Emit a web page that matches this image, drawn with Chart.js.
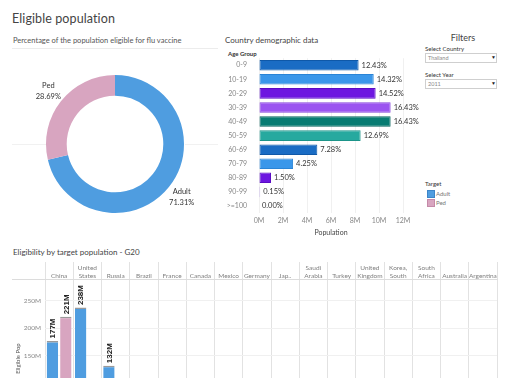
<!DOCTYPE html>
<html><head><meta charset="utf-8">
<script src="https://cdn.jsdelivr.net/npm/chart.js@4"></script>
<style>
html,body{margin:0;padding:0;width:512px;height:378px;overflow:hidden;background:#fff;font-family:Lato,"Open Sans",sans-serif;}
.a{position:absolute;white-space:nowrap;line-height:1;}
canvas{position:absolute;}
.box{position:absolute;border:1px solid #cfcfcf;background:#fff;box-sizing:border-box;}
</style></head><body>
<div class="a" style="left:12px;top:13px;font-size:12.5px;color:#444;letter-spacing:0.1px;">Eligible population</div>
<div class="a" style="left:13px;top:37px;font-size:7.5px;color:#555;">Percentage of the population eligible for flu vaccine</div>
<div class="a" style="left:12px;top:48px;width:206px;height:1px;background:#ececec;"></div>
<div class="a" style="left:12px;top:144px;width:34px;height:1px;background:#f1f1f1;"></div>
<div class="a" style="left:185px;top:144px;width:33px;height:1px;background:#f1f1f1;"></div>
<div class="a" style="left:225px;top:36px;font-size:8px;color:#444;">Country demographic data</div>
<div class="a" style="left:228px;top:51px;font-size:6px;color:#333;font-weight:bold;">Age Group</div>

<div class="a" style="left:440px;top:33px;width:46px;text-align:center;font-size:9px;color:#444;">Filters</div>
<div class="a" style="left:425px;top:46px;font-size:6px;color:#333;">Select Country</div>
<div class="box" style="left:425px;top:53px;width:72px;height:10px;"></div>
<div class="a" style="left:428px;top:55.5px;font-size:5.5px;color:#888;">Thailand</div>
<div class="a" style="left:491px;top:55px;font-size:5px;color:#222;">&#9660;</div>
<div class="a" style="left:425px;top:72px;font-size:6px;color:#333;">Select Year</div>
<div class="box" style="left:425px;top:79px;width:72px;height:10px;"></div>
<div class="a" style="left:428px;top:81.5px;font-size:5.5px;color:#888;">2011</div>
<div class="a" style="left:491px;top:81px;font-size:5px;color:#222;">&#9660;</div>

<div class="a" style="left:425px;top:181px;font-size:6px;color:#333;">Target</div>
<div class="a" style="left:427px;top:190px;width:6px;height:6px;background:#4f9de0;border:0.5px solid #3d85c8;"></div>
<div class="a" style="left:436px;top:190.5px;font-size:6px;color:#777;">Adult</div>
<div class="a" style="left:427px;top:199px;width:6px;height:6px;background:#d8a5c0;border:0.5px solid #c48aa8;"></div>
<div class="a" style="left:436px;top:199.5px;font-size:6px;color:#777;">Ped</div>

<div class="a" style="left:13px;top:248px;font-size:8px;color:#444;">Eligibility by target population - G20</div>
<div class="a" style="left:12px;top:279px;width:33px;height:1px;background:#dcdcdc;"></div>

<canvas id="donut" width="206" height="188" style="left:12px;top:50px;"></canvas>
<canvas id="ages" width="200" height="195" style="left:222px;top:50px;"></canvas>
<canvas id="g20" width="488" height="188" style="left:12px;top:258px;"></canvas>

<script>
// ---- data ----
const targetLabels = ['Adult', 'Ped'];
const targetShares = [71.31, 28.69];

const ageGroups = ['0-9','10-19','20-29','30-39','40-49','50-59','60-69','70-79','80-89','90-99','>=100'];
const agePopulationM = [8.30, 9.56, 9.72, 10.97, 10.97, 8.47, 4.86, 2.84, 1.00, 0.10, 0.00];
const agePercent = [12.43, 14.32, 14.52, 16.43, 16.43, 12.69, 7.28, 4.25, 1.50, 0.15, 0.00];
const populationTicksM = [0, 2, 4, 6, 8, 10, 12];

const g20Countries = ['China', ['United','States'], 'Russia', 'Brazil', 'France', 'Canada', 'Mexico', 'Germany', 'Jap..', ['Saudi','Arabia'], 'Turkey', ['United','Kingdom'], ['Korea,','South'], ['South','Africa'], 'Australia', 'Argentina'];
const g20AdultM = [177, 238, 132, null, null, null, null, null, null, null, null, null, null, null, null, null];
const g20PedM   = [221, null, null, null, null, null, null, null, null, null, null, null, null, null, null, null];
const eligibleTicksM = [150, 200, 250];

Chart.defaults.font.family = 'Lato, "Open Sans", sans-serif';
Chart.defaults.animation = false;
Chart.defaults.responsive = false;
Chart.defaults.plugins.legend.display = false;
Chart.defaults.plugins.tooltip.enabled = false;

// ---- donut ----
const donutLabelPlugin = {
  id: 'donutLabels',
  afterDatasetsDraw(chart) {
    const ctx = chart.ctx;
    const meta = chart.getDatasetMeta(0);
    ctx.save();
    ctx.font = '7.5px Lato, "Open Sans", sans-serif';
    ctx.fillStyle = '#333';
    ctx.textAlign = 'center';
    ctx.textBaseline = 'middle';
    meta.data.forEach((arc, i) => {
      const p = arc.getProps(['x','y','startAngle','endAngle','outerRadius'], true);
      const mid = (p.startAngle + p.endAngle) / 2;
      const r = p.outerRadius + 16;
      const x = p.x + Math.cos(mid) * r;
      const y = p.y + Math.sin(mid) * r;
      ctx.fillText(chart.data.labels[i], x, y - 5.5);
      ctx.fillText(chart.data.datasets[0].data[i].toFixed(2) + '%', x, y + 5.5);
    });
    ctx.restore();
  }
};
new Chart(document.getElementById('donut'), {
  type: 'doughnut',
  data: { labels: targetLabels, datasets: [{ data: targetShares, backgroundColor: ['#4f9de0', '#d8a5c0'], borderWidth: 0 }] },
  options: { layout: { padding: 0 }, radius: 69, cutout: '70%' },
  plugins: [donutLabelPlugin]
});

// ---- age bars ----
const ageColors  = ['#1a6cc4','#3a97ea','#6d16e0','#9b55f0','#077b72','#27a99f','#1a6cc4','#3a97ea','#6d16e0','#c4a8f5','#c4a8f5'];
const ageBorders = ['#0f58a8','#2a84d6','#5a0cc4','#8644dc','#05645d','#1c9489','#0f58a8','#2a84d6','#5a0cc4','#b093e6','#b093e6'];
const ageLabelPlugin = {
  id: 'ageLabels',
  afterDatasetsDraw(chart) {
    const ctx = chart.ctx;
    const meta = chart.getDatasetMeta(0);
    ctx.save();
    ctx.font = '7.5px Lato, "Open Sans", sans-serif';
    ctx.fillStyle = '#333';
    ctx.textAlign = 'left';
    ctx.textBaseline = 'middle';
    meta.data.forEach((bar, i) => {
      ctx.fillText(agePercent[i].toFixed(2) + '%', bar.x + 3, bar.y);
    });
    ctx.restore();
  }
};
new Chart(document.getElementById('ages'), {
  type: 'bar',
  data: { labels: ageGroups, datasets: [{ data: agePopulationM, backgroundColor: ageColors, borderColor: ageBorders, borderWidth: 1, borderSkipped: false, barPercentage: 0.75, categoryPercentage: 1 }] },
  options: {
    indexAxis: 'y',
    layout: { padding: { top: 7.6, right: 19, left: 0, bottom: 0 } },
    scales: {
      y: {
        grid: { display: false }, border: { display: false },
        ticks: { font: { size: 7 }, color: '#888', padding: 4 },
        afterFit(s) { s.width = 37; }
      },
      x: {
        min: 0, max: 12,
        afterBuildTicks(s) { s.ticks = populationTicksM.map(v => ({ value: v })); },
        ticks: { font: { size: 7 }, color: '#888', padding: 4, callback: v => v + 'M' },
        grid: { color: '#f0f0f0', drawTicks: false }, border: { display: false },
        title: { display: true, text: 'Population', font: { size: 7 }, color: '#444', padding: { top: 0, bottom: 8 } },
        afterFit(s) { s.height = 32; }
      }
    }
  },
  plugins: [ageLabelPlugin]
});

// ---- G20 bars ----
const g20LabelPlugin = {
  id: 'g20Labels',
  afterDatasetsDraw(chart) {
    const ctx = chart.ctx;
    ctx.save();
    ctx.font = 'bold 8px "Liberation Sans", Arial, sans-serif';
    ctx.fillStyle = '#222';
    ctx.textAlign = 'left';
    ctx.textBaseline = 'middle';
    chart.data.datasets.forEach((ds, di) => {
      chart.getDatasetMeta(di).data.forEach((bar, i) => {
        const v = ds.data[i];
        if (v == null) return;
        ctx.save();
        ctx.translate(bar.x, bar.y - 2.5);
        ctx.rotate(-Math.PI / 2);
        ctx.fillText(v + 'M', 0, 0.5);
        ctx.restore();
      });
    });
    ctx.restore();
  }
};
const capBorder = { top: 1.5, left: 0, right: 0, bottom: 0 };
new Chart(document.getElementById('g20'), {
  type: 'bar',
  data: {
    labels: g20Countries,
    datasets: [
      { label: 'Adult', data: g20AdultM, backgroundColor: '#4f9de0', borderColor: 'rgba(120,120,120,0.75)', borderWidth: capBorder, borderSkipped: 'start', categoryPercentage: 0.95, barPercentage: 0.85 },
      { label: 'Ped', data: g20PedM, backgroundColor: '#d8a5c0', borderColor: 'rgba(120,120,120,0.75)', borderWidth: capBorder, borderSkipped: 'start', categoryPercentage: 0.95, barPercentage: 0.85 }
    ]
  },
  options: {
    layout: { padding: { top: 0, right: 3, left: 0, bottom: 0 } },
    scales: {
      x: {
        position: 'top',
        grid: { color: '#e2e2e2', tickLength: 17, tickColor: '#e2e2e2', offset: true },
        border: { color: '#dcdcdc' },
        ticks: { font: { size: 6.5, lineHeight: 1.2 }, color: '#808080', padding: -17.5, maxRotation: 0, autoSkip: false },
        afterFit(s) { s.height = 21; }
      },
      y: {
        min: 0, max: 290,
        afterBuildTicks(s) { s.ticks = [0, 50, 100].concat(eligibleTicksM).map(v => ({ value: v })); },
        grid: { color: '#f0f0f0', drawTicks: false },
        border: { display: false },
        ticks: { font: { size: 6.5 }, color: '#888', padding: 4, callback: v => eligibleTicksM.includes(v) ? v + 'M' : '' },
        title: { display: true, text: 'Eligible Pop', font: { size: 6 }, color: '#555', padding: { top: 2, bottom: 0 } },
        afterFit(s) { s.width = 33; }
      }
    }
  },
  plugins: [g20LabelPlugin]
});
</script>
</body></html>
